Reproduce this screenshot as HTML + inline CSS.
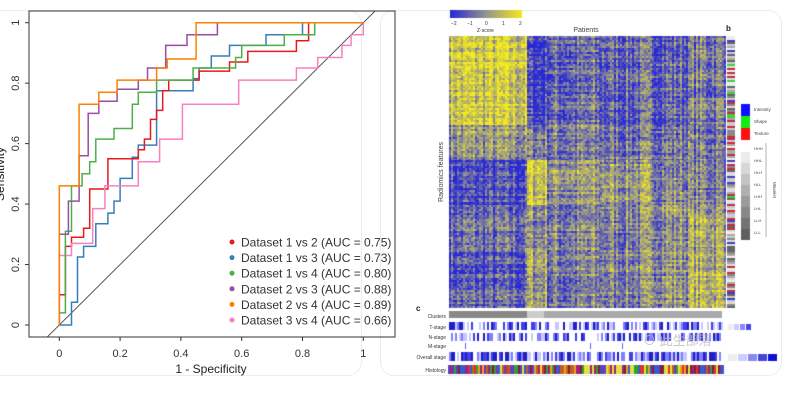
<!DOCTYPE html>
<html><head><meta charset="utf-8">
<style>
body{margin:0;width:800px;height:402px;background:#fff;overflow:hidden;font-family:"Liberation Sans",sans-serif;position:relative}
.card{position:absolute;border:1px solid #ececec;border-radius:14px}
svg text{font-family:"Liberation Sans",sans-serif}
</style></head><body>
<div class="card" style="left:-10px;top:10px;width:370px;height:364px"></div>
<div class="card" style="left:380px;top:10px;width:400px;height:364px"></div>
<svg id="roc" width="400" height="402" style="position:absolute;left:0;top:0">
<defs><clipPath id="pc"><rect x="29" y="11" width="366" height="326"/></clipPath></defs>
<g id="marks" clip-path="url(#pc)"></g>
<rect x="29" y="11" width="366" height="326" fill="none" stroke="#333" stroke-width="1"/>
<g id="axes"></g>
<text x="211" y="373" font-size="12" text-anchor="middle" fill="#222">1 - Specificity</text>
<text transform="translate(4,174) rotate(-90)" font-size="12" text-anchor="middle" fill="#222">Sensitivity</text>
<g id="legend"></g>
</svg>
<canvas id="hm" width="800" height="402" style="position:absolute;left:0;top:0"></canvas>
<svg width="800" height="402" style="position:absolute;left:0;top:0">
<text x="451" y="25" font-size="5" fill="#333">−2</text><text x="467" y="25" font-size="5" fill="#333">−1</text><text x="485" y="25" font-size="5" fill="#333">0</text><text x="502" y="25" font-size="5" fill="#333">1</text><text x="519" y="25" font-size="5" fill="#333">2</text>
<text x="477" y="32" font-size="5" fill="#333">Z-score</text>
<text x="586" y="32" font-size="7" text-anchor="middle" fill="#444">Patients</text>
<text x="726" y="31" font-size="8" font-weight="bold" fill="#222">b</text>
<text x="416" y="311" font-size="8" font-weight="bold" fill="#222">c</text>
<text transform="translate(443,172) rotate(-90)" font-size="7" text-anchor="middle" fill="#444">Radiomics features</text>
<text x="754" y="111" font-size="4.5" fill="#444">Intensity</text><text x="754" y="123" font-size="4.5" fill="#444">Shape</text><text x="754" y="135" font-size="4.5" fill="#444">Texture</text>
<text x="754" y="150" font-size="4" fill="#444">HHH</text><text x="754" y="162" font-size="4" fill="#444">HHL</text><text x="754" y="174" font-size="4" fill="#444">HLH</text><text x="754" y="186" font-size="4" fill="#444">HLL</text><text x="754" y="198" font-size="4" fill="#444">LHH</text><text x="754" y="210" font-size="4" fill="#444">LHL</text><text x="754" y="222" font-size="4" fill="#444">LLH</text><text x="754" y="234" font-size="4" fill="#444">LLL</text>
<text transform="translate(773,190) rotate(90)" font-size="4.5" text-anchor="middle" fill="#444">Wavelet</text>
<line x1="766" y1="143" x2="766" y2="237" stroke="#666" stroke-width="0.5"/>
<text x="446" y="318" font-size="5" text-anchor="end" fill="#333">Clusters</text>
<text x="446" y="329" font-size="5" text-anchor="end" fill="#333">T-stage</text>
<text x="446" y="339" font-size="5" text-anchor="end" fill="#333">N-stage</text>
<text x="446" y="348" font-size="5" text-anchor="end" fill="#333">M-stage</text>
<text x="446" y="359" font-size="5" text-anchor="end" fill="#333">Overall stage</text>
<text x="446" y="372" font-size="5" text-anchor="end" fill="#333">Histology</text>
<text x="643" y="345" font-size="13" fill="#bbb" opacity="0.8">⊙ 此生部落</text>
</svg>
<script>
// ROC data
const fprD12=[0,0,0.02,0.02,0.04,0.04,0.08,0.08,0.1,0.1,0.16,0.16,0.26,0.26,0.28,0.28,0.3,0.3,0.32,0.32,0.34,0.34,0.36,0.36,0.46,0.46,0.56,0.56,0.62,0.62,0.78,0.78,0.82,0.82,1];
const tprD12=[0,0.1,0.1,0.26,0.26,0.29,0.29,0.32,0.32,0.45,0.45,0.55,0.55,0.58,0.58,0.615,0.615,0.68,0.68,0.71,0.71,0.775,0.775,0.81,0.81,0.84,0.84,0.87,0.87,0.905,0.905,0.94,0.94,1,1];
const fprD13=[0,0.04,0.04,0.06,0.06,0.08,0.08,0.12,0.12,0.16,0.16,0.18,0.18,0.2,0.2,0.24,0.24,0.26,0.26,0.32,0.32,0.44,0.44,0.46,0.46,0.5,0.5,0.56,0.56,0.68,0.68,0.8,0.8,1];
const tprD13=[0,0,0.075,0.075,0.225,0.225,0.26,0.26,0.335,0.335,0.37,0.37,0.41,0.41,0.485,0.485,0.555,0.555,0.595,0.595,0.775,0.775,0.815,0.815,0.85,0.85,0.89,0.89,0.925,0.925,0.96,0.96,1,1];
const fprD14=[0,0,0.02,0.02,0.04,0.04,0.075,0.075,0.1,0.1,0.12,0.12,0.18,0.18,0.24,0.24,0.26,0.26,0.32,0.32,0.44,0.44,0.58,0.58,0.6,0.6,0.74,0.74,0.84,0.84,1];
const tprD14=[0,0.04,0.04,0.31,0.31,0.46,0.46,0.5,0.5,0.54,0.54,0.615,0.615,0.65,0.65,0.73,0.73,0.77,0.77,0.81,0.81,0.85,0.85,0.885,0.885,0.925,0.925,0.96,0.96,1,1];
const fprD23=[0,0,0.03,0.03,0.065,0.065,0.095,0.095,0.13,0.13,0.19,0.19,0.26,0.26,0.29,0.29,0.35,0.35,0.42,0.42,0.52,0.52,1];
const tprD23=[0,0.3,0.3,0.41,0.41,0.56,0.56,0.7,0.7,0.74,0.74,0.78,0.78,0.81,0.81,0.85,0.85,0.925,0.925,0.96,0.96,1,1];
const fprD24=[0,0,0.065,0.065,0.13,0.13,0.19,0.19,0.32,0.32,0.355,0.355,0.45,0.45,1];
const tprD24=[0,0.46,0.46,0.73,0.73,0.77,0.77,0.81,0.81,0.85,0.85,0.88,0.88,1,1];
const fprD34=[0,0,0.04,0.04,0.11,0.11,0.15,0.15,0.26,0.26,0.33,0.33,0.405,0.405,0.59,0.59,0.78,0.78,0.85,0.85,0.93,0.93,0.96,0.96,1,1];
const tprD34=[0,0.23,0.23,0.27,0.27,0.385,0.385,0.46,0.46,0.54,0.54,0.615,0.615,0.73,0.73,0.81,0.81,0.85,0.85,0.885,0.885,0.925,0.925,0.96,0.96,1];
const seriesNames=["Dataset 1 vs 2 (AUC = 0.75)","Dataset 1 vs 3 (AUC = 0.73)","Dataset 1 vs 4 (AUC = 0.80)","Dataset 2 vs 3 (AUC = 0.88)","Dataset 2 vs 4 (AUC = 0.89)","Dataset 3 vs 4 (AUC = 0.66)"];
const seriesSlugs=["d1-vs-d2","d1-vs-d3","d1-vs-d4","d2-vs-d3","d2-vs-d4","d3-vs-d4"];
const seriesColors=["#e41a1c","#377eb8","#4daf4a","#984ea3","#ff7f00","#f781bf"];
const xTicks=[0,0.2,0.4,0.6,0.8,1];
const yTicks=[0,0.2,0.4,0.6,0.8,1];
const X=v=>59.3+v*304, Y=v=>325-v*302.3;
const NS="http://www.w3.org/2000/svg";
const marks=document.getElementById('marks'),axes=document.getElementById('axes'),leg=document.getElementById('legend');
function mk(t,a,p){const e=document.createElementNS(NS,t);for(const k in a)e.setAttribute(k,a[k]);p.appendChild(e);return e;}
const diag=mk('line',{x1:X(-0.1),y1:Y(-0.1),x2:X(1.1),y2:Y(1.1),stroke:'#555','stroke-width':1},marks);


const F=[fprD12,fprD13,fprD14,fprD23,fprD24,fprD34],T=[tprD12,tprD13,tprD14,tprD23,tprD24,tprD34];
[1,0,5,2,3,4].forEach(i=>{
 const pts=F[i].map((f,j)=>X(f).toFixed(1)+','+Y(T[i][j]).toFixed(1)).join(' ');
 const pl=mk('polyline',{points:pts,fill:'none',stroke:seriesColors[i],'stroke-width':1.5},marks);
 
 
});
xTicks.forEach(v=>{
 mk('line',{x1:X(v),y1:337,x2:X(v),y2:341,stroke:'#333'},axes);
 const t=mk('text',{x:X(v),y:357,'font-size':11,'text-anchor':'middle',fill:'#333'},axes);t.textContent=String(v);
 
 
});
yTicks.forEach(v=>{
 mk('line',{x1:25,y1:Y(v),x2:29,y2:Y(v),stroke:'#333'},axes);
 const t=mk('text',{transform:`translate(19,${Y(v)}) rotate(-90)`,'font-size':11,'text-anchor':'middle',fill:'#333'},axes);t.textContent=String(v);
 
 
});
seriesNames.forEach((n,i)=>{
 const y=242+i*15.6;
 const g=mk('g',{},leg);
 
 
 mk('circle',{cx:232,cy:y,r:2.5,fill:seriesColors[i]},g);
 const t=mk('text',{x:241,y:y+4.5,'font-size':12,fill:'#333'},g);t.textContent=n;
});
// heatmap (decorative texture)
const c=document.getElementById('hm').getContext('2d');
let s=7;const rnd=()=>{s=(s*16807)%2147483647;return s/2147483647;};
const colBounds=[449,527,547,600,650,690,725];
const rowBounds=[36,125,160,205,248,270,308];
const blockMean=[
 [0.8,0.1,0.3,0.28,0.3,0.38],
 [0.5,0.35,0.4,0.38,0.38,0.38],
 [0.15,0.8,0.48,0.5,0.45,0.42],
 [0.28,0.45,0.4,0.42,0.5,0.6],
 [0.2,0.6,0.45,0.45,0.5,0.65],
 [0.22,0.55,0.38,0.42,0.5,0.7]];
function zc(v){v=Math.max(0,Math.min(1,v));let r,g,b;
 if(v<0.5){const t=v/0.5;r=40+t*110;g=40+t*110;b=215-t*75;}else{const t=(v-0.5)/0.5;r=150+t*95;g=150+t*85;b=140-t*110;}
 return `rgb(${r|0},${g|0},${b|0})`;}
const colNoise=[];for(let x=449;x<725;x+=2)colNoise.push(rnd()-0.5);
for(let bi=0;bi<6;bi++)for(let bj=0;bj<6;bj++){
 for(let y=rowBounds[bi];y<rowBounds[bi+1];y+=2){const rn=rnd()-0.5;
  for(let x=colBounds[bj];x<colBounds[bj+1];x+=2){
   const v=blockMean[bi][bj]+0.45*colNoise[(x-449)>>1]+0.3*rn+0.45*(rnd()-0.5);
   c.fillStyle=zc(v);c.fillRect(x,y,2,2);}}}
// color bar
for(let x=450;x<522;x++){c.fillStyle=zc((x-450)/72);c.fillRect(x,10,1,8);}
// side bar
for(let y=36;y<308;y+=2){const r=rnd();c.fillStyle=r<0.08?'#c03040':r<0.13?'#4040c0':r<0.16?'#40d040':['#ddd','#aaa','#888','#ccc','#eee','#666'][Math.floor(rnd()*6)];c.fillRect(727,y,8,2);}
c.fillStyle='#1010ff';c.fillRect(741,104,9,12);c.fillStyle='#10ee10';c.fillRect(741,116,9,12);c.fillStyle='#ff1010';c.fillRect(741,128,9,12);
for(let i=0;i<8;i++){const g=235-i*20;c.fillStyle=`rgb(${g},${g},${g})`;c.fillRect(741,152+i*11,9,11);}
// clusters
c.fillStyle='#888';c.fillRect(449,311,78,7);c.fillStyle='#ccc';c.fillRect(527,311,17,7);c.fillStyle='#aaa';c.fillRect(544,311,178,7);
// tracks
const tr=[[322,8,0.6],[333,8,0.55],[352,9,0.75]];
tr.forEach(([y,h,p])=>{for(let x=449;x<722;x+=2){const r=rnd();c.fillStyle=r>p?'#fff':['#c8c8ff','#8080ff','#4040e8','#2020c0'][Math.floor(rnd()*4)];c.fillRect(x,y,2,h);}});
c.fillStyle='#6060ff';[465,590,622].forEach(x=>c.fillRect(x,343,1,6));
const hc=['#e03030','#f0a020','#30a030','#6040c0','#a02080','#e0e040','#3060d0','#c06020','#802040'];
for(let x=448;x<724;x+=2){c.fillStyle=hc[Math.floor(rnd()*hc.length)];c.fillRect(x,365,2,9);}
// stage legends
['#eee','#ccf','#88f','#44e'].forEach((col,i)=>{c.fillStyle=col;c.fillRect(728+i*6,324,5,6);});
['#eee','#ccf','#88e','#44d','#1010d0'].forEach((col,i)=>{c.fillStyle=col;c.fillRect(728+i*10,354,9,7);});
</script>
</body></html>
